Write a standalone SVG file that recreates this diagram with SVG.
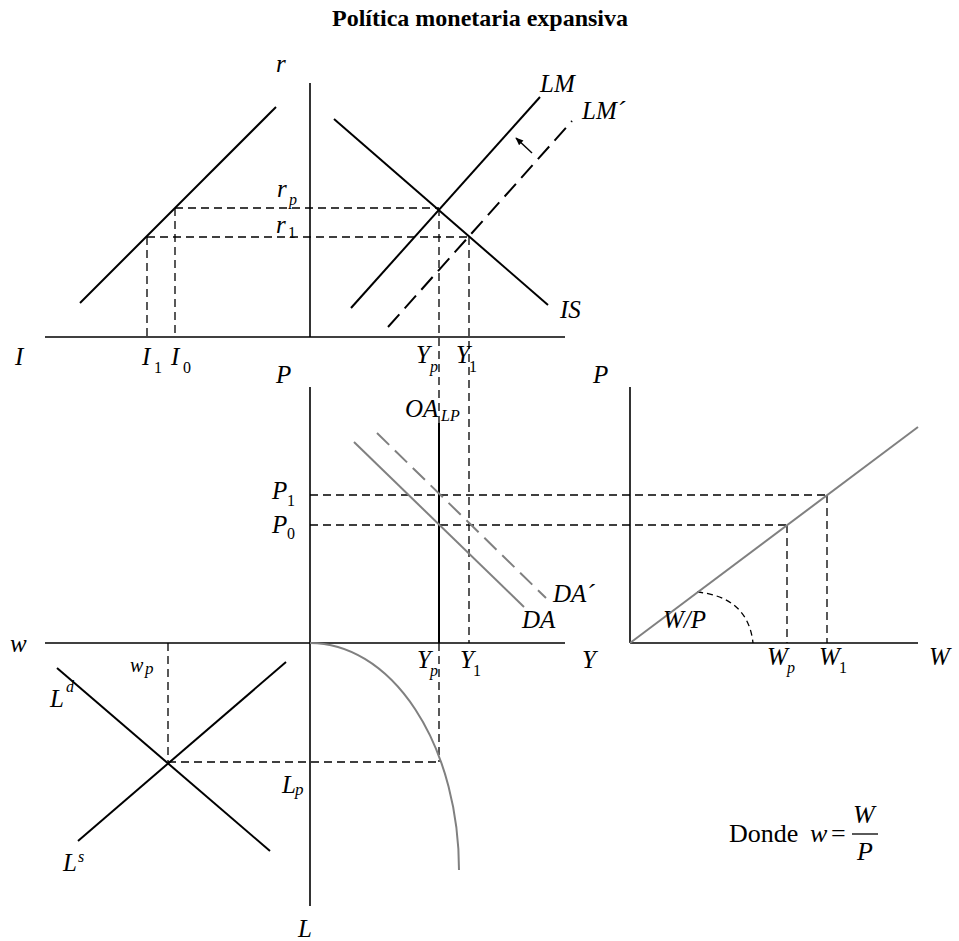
<svg xmlns="http://www.w3.org/2000/svg" width="959" height="941" viewBox="0 0 959 941">
<defs>
<marker id="arr" viewBox="0 0 10 10" refX="9" refY="5" markerWidth="8" markerHeight="8" orient="auto" markerUnits="userSpaceOnUse">
<path d="M0,1 L10,5 L0,9 Z" fill="#000"/>
</marker>
<style>
.ax{stroke:#000;stroke-width:1.6;fill:none}
.ln{stroke:#000;stroke-width:2;fill:none}
.gr{stroke:#808080;stroke-width:2;fill:none}
.dl{stroke:#000;stroke-width:1.3;fill:none;stroke-dasharray:8 5}
.dlong{stroke:#000;stroke-width:2;fill:none;stroke-dasharray:17 8}
.dgr{stroke:#808080;stroke-width:2;fill:none;stroke-dasharray:17 8}
.t{font-family:"Liberation Serif","Times New Roman",serif;font-style:italic;font-size:25px;fill:#000}
.s{font-family:"Liberation Serif","Times New Roman",serif;font-style:normal;font-size:16px;fill:#000}
.si{font-family:"Liberation Serif","Times New Roman",serif;font-style:italic;font-size:16px;fill:#000}
.n{font-family:"Liberation Serif","Times New Roman",serif;font-size:26px;fill:#000}
.title{font-family:"Liberation Serif","Times New Roman",serif;font-weight:bold;font-size:24px;fill:#000}
</style>
</defs>
<rect width="959" height="941" fill="#fff"/>
<text class="title" x="480" y="26" text-anchor="middle">Política monetaria expansiva</text>

<g id="axes">
<line class="ax" x1="45" y1="337" x2="565" y2="337"/>
<line class="ax" x1="310" y1="83" x2="310" y2="337"/>
<line class="ax" x1="45" y1="643" x2="565" y2="643"/>
<line class="ax" x1="310" y1="387" x2="310" y2="906"/>
<line class="ax" x1="630" y1="387" x2="630" y2="643"/>
<line class="ax" x1="630" y1="643" x2="918" y2="643"/>
</g>

<g id="connectors">
<line class="dl" x1="175" y1="208" x2="439" y2="208"/>
<line class="dl" x1="147" y1="237" x2="469" y2="237"/>
<line class="dl" x1="147" y1="237" x2="147" y2="337"/>
<line class="dl" x1="175" y1="208" x2="175" y2="337"/>
<line class="dl" x1="439" y1="208" x2="439" y2="423"/>
<line class="dl" x1="469" y1="237" x2="469" y2="643"/>
<line class="dl" x1="310" y1="495" x2="827" y2="495"/>
<line class="dl" x1="310" y1="525" x2="787" y2="525"/>
<line class="dl" x1="787" y1="525" x2="787" y2="643"/>
<line class="dl" x1="827" y1="495" x2="827" y2="643"/>
<line class="dl" x1="439" y1="643" x2="439" y2="762"/>
<line class="dl" x1="168" y1="762" x2="439" y2="762"/>
<line class="dl" x1="168" y1="643" x2="168" y2="762"/>
<path class="dl" style="stroke-dasharray:6 4" d="M697,592 Q748,597 753,643"/>
<line stroke="#000" stroke-width="1.4" x1="532" y1="153" x2="516" y2="138" marker-end="url(#arr)"/>
</g>

<g id="investment"><line class="ln" x1="80" y1="303" x2="276" y2="107"/></g>
<g id="IS"><line class="ln" x1="334" y1="119" x2="548" y2="305"/></g>
<g id="LM"><line class="ln" x1="351" y1="308" x2="540" y2="97"/></g>
<g id="LM2"><line class="dlong" x1="388" y1="327" x2="572" y2="121"/></g>
<g id="OALP"><line class="ln" x1="439" y1="423" x2="439" y2="643"/></g>
<g id="DA"><line class="gr" x1="354" y1="442" x2="524" y2="607"/></g>
<g id="DA2"><line class="dgr" x1="377" y1="433" x2="546" y2="598"/></g>
<g id="WP"><line class="gr" x1="630" y1="643" x2="918" y2="427"/></g>
<g id="Ld"><line class="ln" x1="57" y1="668" x2="270" y2="851"/></g>
<g id="Ls"><line class="ln" x1="78" y1="841" x2="286" y2="662"/></g>
<g id="PF"><path class="gr" d="M310,643 A149,227 0 0 1 459,870"/></g>

<g id="labels">
<text class="t" x="276" y="72">r</text>
<text class="t" x="277" y="197">r</text><text class="si" x="289" y="205">p</text>
<text class="t" x="276" y="233">r</text><text class="s" x="288" y="238">1</text>
<text class="t" x="15" y="365">I</text>
<text class="t" x="142" y="365">I</text><text class="s" x="154" y="373">1</text>
<text class="t" x="171" y="365">I</text><text class="s" x="183" y="373">0</text>
<text class="t" x="416" y="363">Y</text><text class="si" x="430" y="372">p</text>
<text class="t" x="456" y="363">Y</text><text class="s" x="469" y="372">1</text>
<text class="t" x="540" y="92">LM</text>
<text class="t" x="582" y="119">LM´</text>
<text class="t" x="560" y="318">IS</text>
<text class="t" x="276" y="383">P</text>
<text class="t" x="593" y="383">P</text>
<text class="t" x="405" y="417">OA</text><text class="si" x="441" y="421">LP</text>
<text class="t" x="272" y="499">P</text><text class="s" x="287" y="506">1</text>
<text class="t" x="272" y="533">P</text><text class="s" x="287" y="539">0</text>
<text class="t" x="553" y="602">DA´</text>
<text class="t" x="522" y="628">DA</text>
<text class="t" x="417" y="668">Y</text><text class="si" x="430" y="676">p</text>
<text class="t" x="460" y="668">Y</text><text class="s" x="473" y="676">1</text>
<text class="t" x="582" y="668">Y</text>
<text class="t" x="663" y="628">W/P</text>
<text class="t" x="767" y="665">W</text><text class="si" x="787" y="673">p</text>
<text class="t" x="819" y="665">W</text><text class="s" x="839" y="673">1</text>
<text class="t" x="929" y="665">W</text>
<text class="t" x="10" y="652">w</text>
<text class="t" x="130" y="672" style="font-size:20px">w</text><text class="si" x="145" y="674" style="font-size:17px">p</text>
<text class="t" x="50" y="707">L</text><text class="si" x="66" y="692">d</text>
<text class="t" x="63" y="871">L</text><text class="si" x="78" y="862">s</text>
<text class="t" x="282" y="793">L</text><text class="si" x="295" y="795" style="font-size:17px">p</text>
<text class="t" x="298" y="937">L</text>
</g>

<g id="formula">
<text class="n" x="729" y="842">Donde</text>
<text class="t" x="810" y="842" style="font-size:26px">w</text>
<text class="n" x="831" y="842">=</text>
<line stroke="#000" stroke-width="1.3" x1="852" y1="834" x2="878" y2="834"/>
<text class="t" x="853" y="823" style="font-size:26px">W</text>
<text class="t" x="857" y="860" style="font-size:26px">P</text>
</g>
</svg>
